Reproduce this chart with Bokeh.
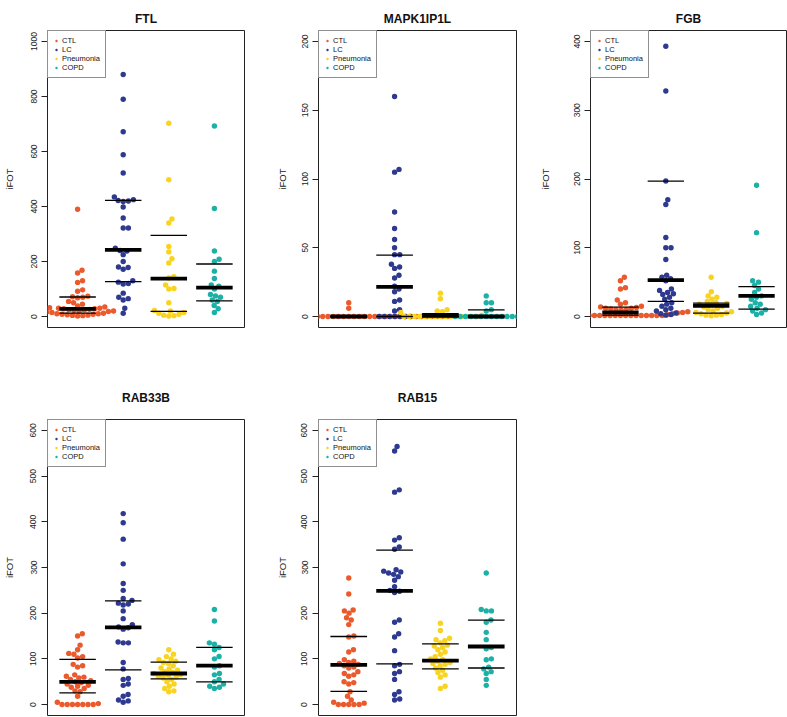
import numpy as np
from bokeh.plotting import figure
from bokeh.models import Range1d, FixedTicker, Legend, LegendItem, ColumnDataSource
from bokeh.layouts import row, column
from bokeh.embed import file_html
from bokeh.resources import INLINE

GROUPS = ["CTL", "LC", "Pneumonia", "COPD"]
COLORS = ["#EA5A2C", "#2E3A8F", "#F8D31F", "#1CB1A6"]

# ---------------- FTL ----------------
FTL_CTL = [390, 168, 158, 130, 124, 97, 92, 74, 72, 70, 68, 55, 50, 45, 38, 35, 32, 30, 30, 28,
           28, 26, 25, 24, 22, 20, 20, 18, 16, 15, 12, 10, 10, 8, 8, 6, 5, 4, 3, 2]
FTL_LC = [880, 790, 672, 588, 522, 435, 425, 422, 420, 418, 398, 358, 322, 322, 248, 240, 238,
          225, 200, 180, 178, 172, 130, 125, 120, 118, 85, 70, 65, 60, 30, 12]
FTL_PN = [703, 497, 355, 340, 255, 235, 210, 195, 145, 140, 115, 102, 100, 50, 22, 20, 15, 12,
          8, 5, 3, 2]
FTL_COPD = [693, 393, 238, 208, 200, 165, 138, 115, 110, 100, 80, 75, 70, 60, 55, 40, 28, 15]
FTL_MED = [28, 242, 138, 105]
FTL_Q1 = [12, 127, 19, 57]
FTL_Q3 = [71, 422, 295, 191]

# ---------------- MAPK1IP1L ----------------
MAP_CTL = [10, 6] + [0] * 38
MAP_LC = [160, 107, 105, 76, 64, 56, 50, 45, 45, 38, 36, 35, 30, 28, 22, 20, 18, 12, 11, 5, 4] + [0] * 7
MAP_PN = [17, 13, 5, 4, 3.5, 3, 1] + [0] * 15
MAP_COPD = [15, 10, 10, 5, 4] + [0] * 13
MAP_MED = [0, 21.5, 0.5, 0]
MAP_Q1 = [0, 0, 0, 0]
MAP_Q3 = [0, 44.7, 2, 4.8]

# ---------------- FGB ----------------
FGB_CTL = [57, 52, 42, 40, 24, 20, 18, 15, 14, 13, 12, 12, 11, 10, 10, 9, 8, 7, 6, 6, 5, 5, 4, 4,
           3, 3] + [1.5] * 17
FGB_LC = [393, 328, 197, 170, 163, 115, 100, 100, 83, 60, 57, 55, 52, 40, 38, 35, 33, 32, 28, 25,
          20, 18, 15, 12, 10, 8, 5, 4, 3, 2]
FGB_PN = [57, 36, 30, 28, 25, 22, 20, 19, 18, 17, 15, 14, 12, 10, 8, 7, 6, 5, 4, 3, 2, 2, 1]
FGB_COPD = [191, 122, 52, 50, 45, 40, 35, 30, 28, 25, 20, 18, 15, 12, 10, 8, 5, 3]
FGB_MED = [6, 53, 15.5, 30]
FGB_Q1 = [2, 22, 5, 10.6]
FGB_Q3 = [13.5, 197, 19.4, 43.5]

# ---------------- RAB33B ----------------
R33_CTL = [155, 150, 130, 120, 112, 110, 105, 102, 88, 85, 82, 65, 62, 60, 58, 55, 52, 50, 48, 45,
           42, 40, 38, 35, 30, 28, 18, 5, 2, 0, 0, 0, 0, 0, 0, 0]
R33_LC = [418, 398, 362, 308, 265, 250, 232, 228, 222, 220, 218, 205, 188, 175, 170, 168, 165, 137,
          135, 135, 92, 78, 57, 55, 45, 42, 22, 18, 10, 8, 5]
R33_PN = [120, 110, 105, 100, 98, 95, 92, 90, 85, 80, 78, 75, 72, 70, 68, 66, 64, 62, 60, 58, 55,
          50, 45, 40, 35, 30, 28]
R33_COPD = [208, 183, 135, 132, 125, 120, 105, 100, 85, 82, 68, 65, 55, 50, 45, 40, 38, 35]
R33_MED = [49.5, 169, 68, 85]
R33_Q1 = [25.5, 76, 56, 49.5]
R33_Q3 = [99, 227, 93, 125]

# ---------------- RAB15 ----------------
R15_CTL = [277, 242, 207, 205, 200, 190, 185, 175, 150, 148, 120, 115, 98, 95, 92, 90, 88, 85, 82,
           80, 72, 68, 65, 62, 50, 48, 45, 28, 18, 10, 5, 3, 0, 0, 0, 0, 0]
R15_LC = [565, 555, 470, 465, 365, 360, 345, 340, 295, 292, 290, 288, 285, 280, 272, 258, 250, 248,
          245, 185, 180, 155, 148, 118, 88, 85, 72, 68, 55, 28, 22, 12, 10]
R15_PN = [178, 162, 145, 142, 140, 135, 130, 128, 125, 120, 115, 110, 105, 100, 98, 95, 92, 90, 88,
          85, 80, 75, 70, 65, 60, 40, 35]
R15_COPD = [288, 208, 205, 205, 185, 180, 158, 142, 125, 122, 100, 98, 82, 78, 72, 68, 55, 42]
R15_MED = [87, 249, 96, 127]
R15_Q1 = [29, 89, 78, 80]
R15_Q3 = [149, 338, 133, 185]

TITLES = ["FTL", "MAPK1IP1L", "FGB", "RAB33B", "RAB15"]
YMAX = [1000, 200, 400, 600, 600]
YSTEP = [200, 50, 100, 100, 100]
DATA = [[FTL_CTL, FTL_LC, FTL_PN, FTL_COPD],
        [MAP_CTL, MAP_LC, MAP_PN, MAP_COPD],
        [FGB_CTL, FGB_LC, FGB_PN, FGB_COPD],
        [R33_CTL, R33_LC, R33_PN, R33_COPD],
        [R15_CTL, R15_LC, R15_PN, R15_COPD]]
MEDS = [FTL_MED, MAP_MED, FGB_MED, R33_MED, R15_MED]
Q1S = [FTL_Q1, MAP_Q1, FGB_Q1, R33_Q1, R15_Q1]
Q3S = [FTL_Q3, MAP_Q3, FGB_Q3, R33_Q3, R15_Q3]

FONT = "Liberation Sans"
DOT = 5.4     # marker diameter (px)
SPACING = 5.2  # swarm spacing (px)


def swarm(ypx, d):
    n = len(ypx)
    xs = np.zeros(n)
    order = np.argsort(np.asarray(ypx), kind="stable")
    px, py = [], []
    for i in order:
        y = ypx[i]
        nb = [(a, b) for a, b in zip(px, py) if abs(b - y) < d]
        cands = [0.0]
        for a, b in nb:
            dx = np.sqrt(max(d * d - (b - y) ** 2, 0.0))
            cands += [a + dx, a - dx]
        best = 0.0
        for c in sorted(cands, key=lambda c: (abs(c), -c)):
            if all((c - a) ** 2 + (y - b) ** 2 >= d * d - 1e-6 for a, b in nb):
                best = c
                break
        xs[i] = best
        px.append(best)
        py.append(y)
    return xs


def make_panel(k, frame_w, frame_h, left, right, top, bottom, label_standoff, title_standoff):
    ymax = YMAX[k]
    y0, y1 = -0.04 * ymax, 1.04 * ymax
    x0, x1 = 0.34, 4.66
    p = figure(frame_width=frame_w, frame_height=frame_h,
               min_border_left=left, min_border_right=right,
               min_border_top=top, min_border_bottom=bottom,
               x_range=Range1d(x0, x1), y_range=Range1d(y0, y1),
               output_backend="svg", toolbar_location=None,
               background_fill_color="white", border_fill_color="white")
    p.outline_line_color = "#222222"
    p.outline_line_width = 1
    p.xaxis.visible = False
    p.xgrid.visible = False
    p.ygrid.visible = False
    p.yaxis.ticker = FixedTicker(ticks=list(range(0, ymax + 1, YSTEP[k])), minor_ticks=[])
    p.yaxis.major_label_orientation = "vertical"
    p.yaxis.major_label_text_font = FONT
    p.yaxis.major_label_text_font_size = "8.5px"
    p.yaxis.major_label_text_color = "#222222"
    p.yaxis.major_tick_out = 6
    p.yaxis.major_tick_in = 0
    p.yaxis.major_tick_line_color = "#222222"
    p.yaxis.major_label_standoff = 5
    p.yaxis.axis_line_color = None
    p.yaxis.axis_label = "iFOT"
    p.yaxis.axis_label_text_font = FONT
    p.yaxis.axis_label_text_font_style = "normal"
    p.yaxis.axis_label_text_font_size = "9.5px"
    p.yaxis.axis_label_text_color = "#222222"
    p.yaxis.axis_label_standoff = label_standoff

    p.title.text = TITLES[k]
    p.title.align = "center"
    p.title.text_font = FONT
    p.title.text_font_style = "bold"
    p.title.text_font_size = "12px"
    p.title.text_color = "#111111"
    p.title.standoff = title_standoff

    px_per_x = frame_w / (x1 - x0)
    px_per_y = frame_h / (y1 - y0)
    items = []
    for g, vals in enumerate(DATA[k]):
        vals = np.asarray(vals, dtype=float)
        offs = swarm(vals * px_per_y, SPACING) / px_per_x
        src = ColumnDataSource(dict(x=(g + 1) + offs, y=vals))
        r = p.scatter("x", "y", source=src, size=DOT, fill_color=COLORS[g], line_color=None)
        items.append(LegendItem(label=GROUPS[g], renderers=[r]))

    gx = np.arange(1, 5)
    p.segment(x0=gx - 0.4, x1=gx + 0.4, y0=Q1S[k], y1=Q1S[k], line_color="black", line_width=1.3)
    p.segment(x0=gx - 0.4, x1=gx + 0.4, y0=Q3S[k], y1=Q3S[k], line_color="black", line_width=1.3)
    p.segment(x0=gx - 0.4, x1=gx + 0.4, y0=MEDS[k], y1=MEDS[k], line_color="black", line_width=3.8)

    leg = Legend(items=items, location="top_left", margin=0, padding=5, spacing=0,
                 glyph_width=6, glyph_height=9, label_height=9, label_standoff=3,
                 label_text_font=FONT, label_text_font_size="7.5px", label_text_color="#111111",
                 border_line_color="#222222", border_line_width=1,
                 background_fill_color="white", background_fill_alpha=1.0)
    p.add_layout(leg)
    return p


p1 = make_panel(0, 197, 297, 46, 28, 30, 44, 13, 9)
p2 = make_panel(1, 198, 297, 46, 19, 30, 44, 11, 9)
p3 = make_panel(2, 196, 297, 55, 2, 30, 44, 20, 9)
p4 = make_panel(3, 197, 296, 46, 28, 48, 2, 13, 30)
p5 = make_panel(4, 198, 296, 46, 28, 48, 2, 11, 30)

layout = column(row(p1, p2, p3), row(p4, p5))

open("out.html", "w").write(file_html(layout, INLINE))
